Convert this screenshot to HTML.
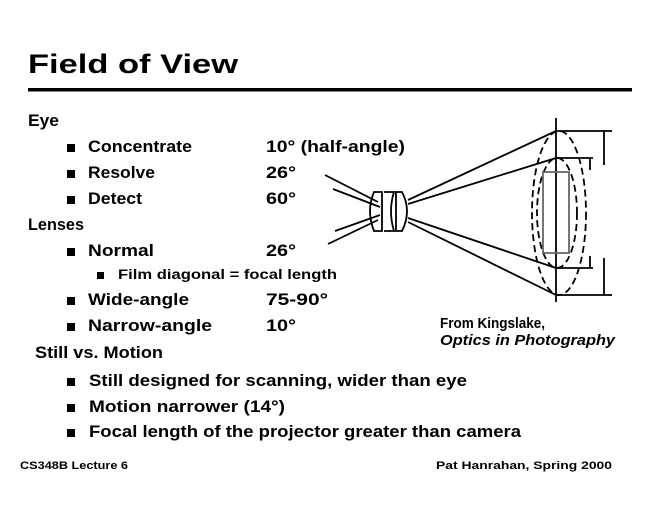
<!DOCTYPE html>
<html><head><style>
html,body{margin:0;padding:0;background:#fff;}
svg{display:block;font-family:"Liberation Sans",sans-serif;font-weight:bold;}
</style></head><body>
<svg width="660" height="510" viewBox="0 0 660 510">
<text x="28" y="73" font-size="27" textLength="210" lengthAdjust="spacingAndGlyphs">Field of View</text>
<rect x="28" y="88" width="604" height="3.5" fill="#000"/>
<g font-size="16.5">
<text x="28" y="126" textLength="31" lengthAdjust="spacingAndGlyphs">Eye</text>
<rect x="67" y="144" width="8" height="8"/><text x="88" y="152" textLength="104" lengthAdjust="spacingAndGlyphs">Concentrate</text><text x="266" y="152" textLength="139" lengthAdjust="spacingAndGlyphs">10° (half-angle)</text>
<rect x="67" y="170" width="8" height="8"/><text x="88" y="178" textLength="67" lengthAdjust="spacingAndGlyphs">Resolve</text><text x="266" y="178" textLength="30" lengthAdjust="spacingAndGlyphs">26°</text>
<rect x="67" y="196" width="8" height="8"/><text x="88" y="204" textLength="54" lengthAdjust="spacingAndGlyphs">Detect</text><text x="266" y="204" textLength="30" lengthAdjust="spacingAndGlyphs">60°</text>
<text x="28" y="230" textLength="56" lengthAdjust="spacingAndGlyphs">Lenses</text>
<rect x="67" y="248" width="8" height="8"/><text x="88" y="256" textLength="66" lengthAdjust="spacingAndGlyphs">Normal</text><text x="266" y="256" textLength="30" lengthAdjust="spacingAndGlyphs">26°</text>
<rect x="97" y="272" width="7" height="7"/><text x="118" y="279" font-size="14" textLength="219" lengthAdjust="spacingAndGlyphs">Film diagonal = focal length</text>
<rect x="67" y="297" width="8" height="8"/><text x="88" y="305" textLength="101" lengthAdjust="spacingAndGlyphs">Wide-angle</text><text x="266" y="305" textLength="62" lengthAdjust="spacingAndGlyphs">75-90°</text>
<rect x="67" y="323" width="8" height="8"/><text x="88" y="331" textLength="124" lengthAdjust="spacingAndGlyphs">Narrow-angle</text><text x="266" y="331" textLength="30" lengthAdjust="spacingAndGlyphs">10°</text>
<text x="35" y="358" textLength="128" lengthAdjust="spacingAndGlyphs">Still vs. Motion</text>
<rect x="67" y="378" width="8" height="8"/><text x="89" y="386" textLength="378" lengthAdjust="spacingAndGlyphs">Still designed for scanning, wider than eye</text>
<rect x="67" y="404" width="8" height="8"/><text x="89" y="412" textLength="196" lengthAdjust="spacingAndGlyphs">Motion narrower (14°)</text>
<rect x="67" y="429" width="8" height="8"/><text x="89" y="437" textLength="432" lengthAdjust="spacingAndGlyphs">Focal length of the projector greater than camera</text>
</g>
<g font-size="14.5">
<text x="440" y="328" textLength="105" lengthAdjust="spacingAndGlyphs">From Kingslake,</text>
<text x="440" y="345" font-style="italic" textLength="175" lengthAdjust="spacingAndGlyphs">Optics in Photography</text>
</g>
<g font-size="11">
<text x="20" y="469" textLength="108" lengthAdjust="spacingAndGlyphs">CS348B Lecture 6</text>
<text x="436" y="469" textLength="176" lengthAdjust="spacingAndGlyphs">Pat Hanrahan, Spring 2000</text>
</g>
<g stroke="#000" fill="none" stroke-width="1.8">
<line x1="556" y1="118" x2="556" y2="302"/>
<ellipse cx="559" cy="213" rx="27" ry="82" stroke-dasharray="7,4"/>
<ellipse cx="557" cy="213" rx="20" ry="55" stroke-dasharray="7,4"/>
<rect x="543" y="172" width="26" height="81" stroke="#666"/>
<line x1="408" y1="200" x2="556" y2="131"/>
<line x1="408" y1="204" x2="556" y2="158"/>
<line x1="408" y1="218" x2="556" y2="268"/>
<line x1="408" y1="222" x2="556" y2="295"/>
<line x1="325" y1="175" x2="378" y2="202"/>
<line x1="333" y1="189" x2="380" y2="207"/>
<line x1="335" y1="231" x2="380" y2="215"/>
<line x1="328" y1="244" x2="378" y2="220"/>
<path d="M374 192 Q366 211 374 231 L382 231 L382 192 Z"/>
<path d="M384 192 L394 192 Q388 211 394 231 L384 231"/>
<path d="M396 192 L402 192 Q412 211 402 231 L396 231 Z"/>
<line x1="556" y1="131" x2="612" y2="131"/>
<line x1="556" y1="295" x2="612" y2="295"/>
<line x1="604" y1="131" x2="604" y2="165"/>
<line x1="604" y1="258" x2="604" y2="295"/>
<line x1="556" y1="158" x2="593" y2="158"/>
<line x1="556" y1="268" x2="593" y2="268"/>
<line x1="590" y1="158" x2="590" y2="170"/>
<line x1="590" y1="256" x2="590" y2="268"/>
</g>
</svg>
</body></html>
